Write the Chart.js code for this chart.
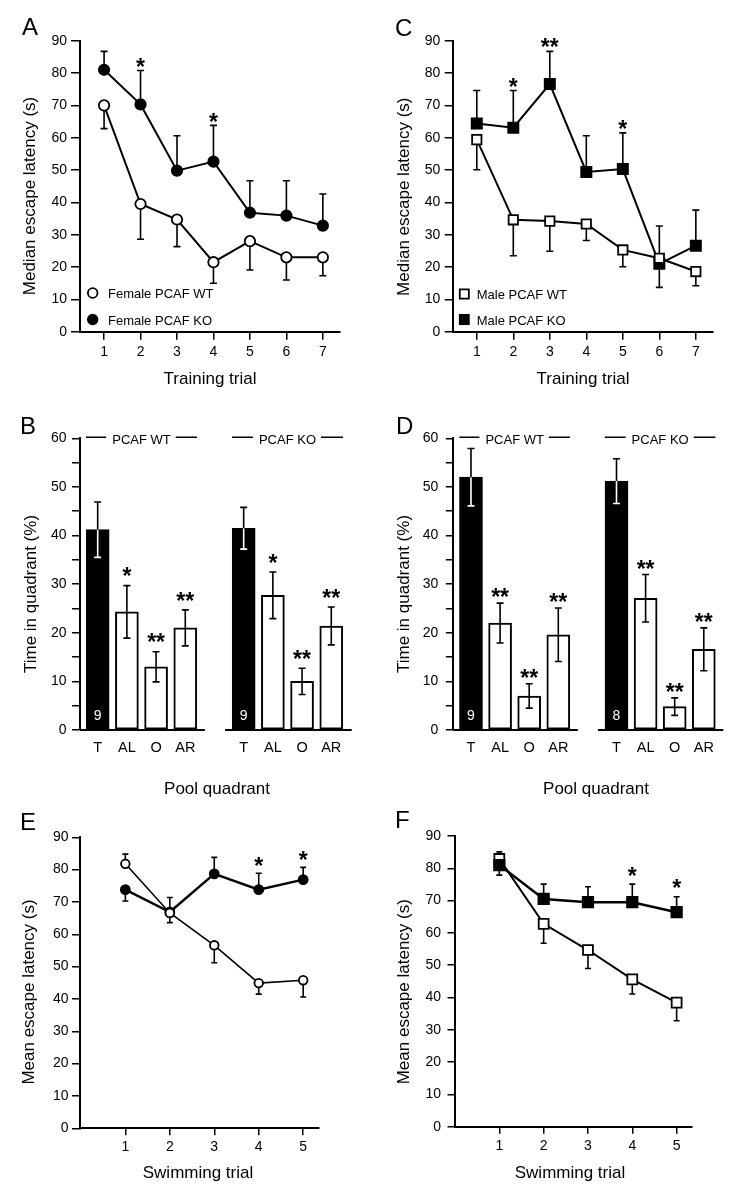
<!DOCTYPE html>
<html>
<head>
<meta charset="utf-8">
<script src="https://cdn.jsdelivr.net/npm/chart.js@4.4.1/dist/chart.umd.min.js"></script>
<style>
  html, body { margin: 0; padding: 0; background: #fff; }
  body { width: 740px; height: 1203px; position: relative; overflow: hidden; font-family: "Liberation Sans", Arial, Helvetica, sans-serif; }
  canvas { position: absolute; }
  .lt { position: absolute; font-size: 24px; line-height: 1; color: #000; }
</style>
</head>
<body>
<canvas id="cA" width="370" height="395" style="left:0;top:0"></canvas>
<canvas id="cC" width="370" height="395" style="left:370px;top:0"></canvas>
<canvas id="cB" width="370" height="410" style="left:0;top:395px"></canvas>
<canvas id="cD" width="370" height="410" style="left:370px;top:395px"></canvas>
<canvas id="cE" width="370" height="403" style="left:0;top:800px"></canvas>
<canvas id="cF" width="370" height="403" style="left:370px;top:800px"></canvas>
<div class="lt" style="left:22px;top:15px">A</div>
<div class="lt" style="left:395px;top:16px">C</div>
<div class="lt" style="left:20px;top:414px">B</div>
<div class="lt" style="left:396px;top:414px">D</div>
<div class="lt" style="left:20px;top:810px">E</div>
<div class="lt" style="left:395px;top:808px">F</div>
<script>
// ---------------- DATA ----------------
const trials7 = [1, 2, 3, 4, 5, 6, 7];
const trials5 = [1, 2, 3, 4, 5];

// Panel A (female, median escape latency)
const aLabels = ['Female PCAF WT', 'Female PCAF KO'];
const aWT   = [70, 39.5, 34.7, 21.5, 28, 23, 23];
const aWTlo = [62.8, 28.6, 26.3, 15.0, 19.1, 16.0, 17.3];
const aKO   = [81, 70.3, 49.8, 52.6, 36.8, 35.9, 32.8];
const aKOhi = [86.7, 80.8, 60.6, 63.8, 46.7, 46.7, 42.6];
const aSig  = ['', '*', '', '*', '', '', ''];

// Panel C (male, median escape latency)
const cLabels = ['Male PCAF WT', 'Male PCAF KO'];
const cWT   = [59.4, 34.6, 34.2, 33.3, 25.3, 22.7, 18.6];
const cWTlo = [50.1, 23.5, 24.9, 28.2, 20.1, 13.7, 14.2];
const cKO   = [64.4, 63.1, 76.6, 49.4, 50.3, 21.0, 26.6];
const cKOhi = [74.6, 74.6, 86.7, 60.6, 61.5, 32.7, 37.6];
const cSig  = ['', '*', '**', '', '*', '', ''];

// Panels B, D (time in quadrant)
const quadrants = ['T', 'AL', 'O', 'AR'];
const groups = ['PCAF WT', 'PCAF KO'];
const bWT    = [41.2, 24.3, 13.0, 21.0];
const bWTerr = [5.7, 5.4, 3.1, 3.7];
const bKO    = [41.5, 27.7, 10.0, 21.4];
const bKOerr = [4.3, 4.8, 2.7, 3.9];
const bSigWT = ['', '*', '**', '**'];
const bSigKO = ['', '*', '**', '**'];
const bN     = ['9', '9'];

const dWT    = [52.0, 22.0, 7.0, 19.6];
const dWTerr = [5.9, 4.1, 2.5, 5.5];
const dKO    = [51.2, 27.1, 4.8, 16.6];
const dKOerr = [4.6, 4.9, 1.8, 4.4];
const dSigWT = ['', '**', '**', '**'];
const dSigKO = ['', '**', '**', '**'];
const dN     = ['9', '8'];

// Panel E (female, mean escape latency, swimming)
const eWT   = [81.8, 66.6, 56.6, 44.9, 45.8];
const eWThi = [84.8, null, null, null, null];
const eWTlo = [null, 63.6, 51.2, 41.5, 40.6];
const eKO   = [73.8, 66.9, 78.7, 73.8, 76.9];
const eKOhi = [null, 71.4, 83.8, 78.9, 80.7];
const eKOlo = [70.3, null, null, null, null];
const eSig  = ['', '', '', '*', '*'];

// Panel F (male, mean escape latency, swimming)
const fWT   = [82.9, 62.8, 54.7, 45.6, 38.4];
const fWThi = [85.1, null, null, null, null];
const fWTlo = [null, 56.8, 49.0, 41.1, 32.8];
const fKO   = [81.0, 70.5, 69.5, 69.5, 66.4];
const fKOhi = [null, 75.1, 74.3, 75.1, 71.2];
const fKOlo = [77.9, null, null, null, null];
const fSig  = ['', '', '', '*', '*'];

// ---------------- HELPERS ----------------
const FONT = '"Liberation Sans", Arial, Helvetica, sans-serif';
Chart.defaults.font.family = FONT;
Chart.defaults.color = '#000';
const TICK_SIZE = 14;

const posWT = [1, 2, 3, 4];
const posKO = [6, 7, 8, 9];
const posAll = posWT.concat(posKO);

function pts(xs, ys) { return xs.map((x, i) => ({ x: x, y: ys[i] })); }

function whiskers(xs, from, to, colors) {
  const out = [];
  xs.forEach((x, i) => {
    if (to[i] === null || to[i] === undefined) return;
    out.push({ x: x, v: from[i], e: to[i], c: colors ? colors[i] : '#000' });
  });
  return out;
}

function drawErrors(chart, o) {
  if (!o.errors) return;
  const ctx = chart.ctx, X = chart.scales.x, Y = chart.scales.y;
  ctx.save();
  ctx.lineWidth = o.errLW || 1.6;
  ctx.lineCap = 'butt';
  o.errors.forEach(w => {
    const px = X.getPixelForValue(w.x);
    const p0 = Y.getPixelForValue(w.v), p1 = Y.getPixelForValue(w.e);
    ctx.strokeStyle = w.c;
    ctx.beginPath();
    ctx.moveTo(px, p0); ctx.lineTo(px, p1);
    ctx.moveTo(px - (o.cap || 3.5), p1); ctx.lineTo(px + (o.cap || 3.5), p1);
    ctx.stroke();
  });
  ctx.restore();
}

function drawMarker(ctx, style, x, y, r, fill, lw) {
  ctx.save();
  ctx.lineWidth = lw;
  ctx.strokeStyle = '#000';
  ctx.fillStyle = fill;
  ctx.beginPath();
  if (style === 'rect') {
    const s = r * Math.SQRT1_2;
    ctx.rect(x - s, y - s, 2 * s, 2 * s);
  } else {
    ctx.arc(x, y, r, 0, Math.PI * 2);
  }
  ctx.fill(); ctx.stroke();
  ctx.restore();
}

const deco = {
  id: 'deco',
  beforeDatasetsDraw(chart, args, o) { if (!o.barMode) drawErrors(chart, o); },
  afterDatasetsDraw(chart, args, o) {
    const ctx = chart.ctx, X = chart.scales.x, Y = chart.scales.y;
    if (o.barMode) drawErrors(chart, o);
    // broken x axis
    if (o.axisSegments) {
      ctx.save();
      ctx.strokeStyle = '#000'; ctx.lineWidth = 2;
      const py = Y.getPixelForValue(0);
      o.axisSegments.forEach(seg => {
        ctx.beginPath();
        ctx.moveTo(X.getPixelForValue(seg[0]), py);
        ctx.lineTo(X.getPixelForValue(seg[1]), py);
        ctx.stroke();
      });
      ctx.restore();
    }
    // significance stars
    if (o.stars) {
      ctx.save();
      const size = o.starSize || 23;
      ctx.font = 'bold ' + size + 'px ' + FONT;
      ctx.textAlign = 'center'; ctx.textBaseline = 'alphabetic'; ctx.fillStyle = '#000';
      o.stars.forEach(s => {
        s.x.forEach((xv, i) => {
          const t = s.t[i];
          if (!t) return;
          const py = Y.getPixelForValue(s.anchor[i]) - o.starGap + 0.57 * size;
          ctx.fillText(t, X.getPixelForValue(xv), py);
        });
      });
      ctx.restore();
    }
    // n labels inside bars
    if (o.nLabels) {
      ctx.save();
      ctx.font = TICK_SIZE + 'px ' + FONT; ctx.fillStyle = '#fff';
      ctx.textAlign = 'center'; ctx.textBaseline = 'middle';
      o.nLabels.x.forEach((xv, i) => {
        ctx.fillText(o.nLabels.t[i], X.getPixelForValue(xv), Y.getPixelForValue(0) - 14);
      });
      ctx.restore();
    }
    // group headers
    if (o.header) {
      const h = o.header;
      ctx.save();
      ctx.font = '13px ' + FONT; ctx.fillStyle = '#000'; ctx.strokeStyle = '#000'; ctx.lineWidth = 1.5;
      ctx.textAlign = 'center'; ctx.textBaseline = 'middle';
      const py = Y.getPixelForValue(h.value) - 1;
      h.labels.forEach((lab, i) => {
        const cx = X.getPixelForValue(h.centers[i]);
        const x0 = X.getPixelForValue(h.centers[i] - h.half), x1 = X.getPixelForValue(h.centers[i] + h.half);
        const w = ctx.measureText(lab).width;
        ctx.fillText(lab, cx, py + 3.5);
        ctx.beginPath();
        ctx.moveTo(x0, py); ctx.lineTo(cx - w / 2 - 6, py);
        ctx.moveTo(cx + w / 2 + 5, py); ctx.lineTo(x1, py);
        ctx.stroke();
      });
      ctx.restore();
    }
  },
  afterDraw(chart, args, o) {
    const ctx = chart.ctx;
    // legend inside plot
    if (o.legend) {
      const L = o.legend;
      chart.data.datasets.forEach((ds, i) => {
        const y = L.y[i];
        drawMarker(ctx, ds.pointStyle, L.x, y, L.r, ds.pointBackgroundColor, 1.8);
        ctx.save();
        ctx.font = '13px ' + FONT; ctx.fillStyle = '#000';
        ctx.textAlign = 'left'; ctx.textBaseline = 'middle';
        ctx.fillText(ds.label, L.tx, y + 1.5);
        ctx.restore();
      });
    }
    // axis titles
    if (o.titles) {
      const T = o.titles;
      ctx.save();
      ctx.font = '17px ' + FONT; ctx.fillStyle = '#000';
      ctx.textAlign = 'center'; ctx.textBaseline = 'middle';
      ctx.fillText(T.x.text, T.x.cx, T.x.cy);
      ctx.translate(T.y.cx, T.y.cy);
      ctx.rotate(-Math.PI / 2);
      ctx.fillText(T.y.text, 0, 0);
      ctx.restore();
    }
  }
};

function yAxis(area, max, step, tickLen, pad, labelStep) {
  return {
    type: 'linear', min: 0, max: max,
    afterFit: s => { s.width = area.l; },
    ticks: { stepSize: step, padding: pad, font: { size: TICK_SIZE }, color: '#000',
             callback: v => (Math.round(v) % labelStep === 0 ? String(v) : '') },
    grid: { display: true, drawOnChartArea: false, drawTicks: true, tickLength: tickLen, color: '#000', lineWidth: 1.5 },
    border: { display: true, color: '#000', width: 2 }
  };
}

function xAxisLine(area, size, min, max, ticksArr, tickLen, pad) {
  return {
    type: 'linear', min: min, max: max, offset: false,
    afterFit: s => { s.height = size.h - area.b; },
    afterBuildTicks: s => { s.ticks = ticksArr.map(v => ({ value: v })); },
    ticks: { padding: pad, font: { size: TICK_SIZE }, color: '#000', autoSkip: false, maxRotation: 0, minRotation: 0,
             callback: v => String(v) },
    grid: { display: true, drawOnChartArea: false, drawTicks: true, tickLength: tickLen, color: '#000', lineWidth: 1.5, offset: false },
    border: { display: true, color: '#000', width: 2 }
  };
}

function xAxisBar(area, size, min, max, pad) {
  return {
    type: 'linear', min: min, max: max, offset: false,
    afterFit: s => { s.height = size.h - area.b; },
    afterBuildTicks: s => { s.ticks = posAll.map(v => ({ value: v })); },
    ticks: { padding: pad, font: { size: 14.5 }, color: '#000', autoSkip: false, maxRotation: 0, minRotation: 0,
             callback: (v, i) => quadrants[i % quadrants.length] },
    grid: { display: false, drawTicks: false, offset: false },
    border: { display: false }
  };
}

function baseOptions(area, size, xCfg, yCfg, decoOpts) {
  return {
    responsive: false, maintainAspectRatio: false, animation: false, events: [],
    layout: { autoPadding: false, padding: { left: 0, top: area.t, right: size.w - area.r, bottom: 0 } },
    plugins: { legend: { display: false }, tooltip: { enabled: false }, title: { display: false }, deco: decoOpts },
    scales: { x: xCfg, y: yCfg }
  };
}

function lineDS(label, xs, ys, style, filled, r, lw, order) {
  return {
    label: label, data: pts(xs, ys), order: order,
    borderColor: '#000', borderWidth: lw, tension: 0, fill: false,
    pointStyle: style, pointRadius: r, pointHoverRadius: r,
    pointBackgroundColor: filled ? '#000' : '#fff', pointBorderColor: '#000', pointBorderWidth: 1.8
  };
}

function lineChart(id, area, size, xr, ticksArr, yTick, xTick, sets, decoOpts) {
  const opts = baseOptions(area, size,
    xAxisLine(area, size, xr[0], xr[1], ticksArr, xTick.len, xTick.pad),
    yAxis(area, 90, 10, yTick.len, yTick.pad, 10), decoOpts);
  return new Chart(document.getElementById(id), { type: 'line', data: { datasets: sets }, options: opts, plugins: [deco] });
}

function barChart(area, size, xr, yTick, xPad, wt, wtErr, ko, koErr, sigWT, sigKO, nLab, starGap) {
  const vals = wt.concat(ko);
  const errs = wtErr.concat(koErr);
  const fills = posAll.map((p, i) => (i % 4 === 0 ? '#000' : '#fff'));
  const hi = vals.map((v, i) => v + errs[i]);
  const lo = vals.map((v, i) => v - errs[i]);
  const loColors = fills.map(f => (f === '#000' ? '#fff' : '#000'));
  const mean = a => a.reduce((s, v) => s + v, 0) / a.length;
  const decoOpts = {
    barMode: true, cap: 3.5, errLW: 1.6,
    errors: whiskers(posAll, vals, hi).concat(whiskers(posAll, vals, lo, loColors)),
    axisSegments: [[xr[0], 4.67], [5.36, xr[1]]],
    stars: [{ x: posAll, t: sigWT.concat(sigKO), anchor: hi }],
    starGap: starGap, starSize: 23,
    nLabels: { x: [posWT[0], posKO[0]], t: nLab },
    header: { labels: groups, centers: [mean(posWT), mean(posKO)], half: 1.9, value: 60 },
    titles: null
  };
  const opts = baseOptions(area, size, xAxisBar(area, size, xr[0], xr[1], xPad), yAxis(area, 60, 5, yTick.len, yTick.pad, 10), decoOpts);
  return { opts: opts, data: { datasets: [{
    type: 'bar', label: 'Time in quadrant', data: pts(posAll, vals),
    backgroundColor: fills, borderColor: '#000', borderWidth: 2, borderSkipped: false, barThickness: 23
  }] } };
}

// ---------------- PANEL A ----------------
(function () {
  const size = { w: 370, h: 395 }, area = { l: 80, t: 40.7, r: 340, b: 331.7 };
  lineChart('cA', area, size, [0.34, 7.47], trials7, { len: 9, pad: 4 }, { len: 8, pad: 3.8 }, [
    lineDS(aLabels[0], trials7, aWT, 'circle', false, 5.2, 2, 0),
    lineDS(aLabels[1], trials7, aKO, 'circle', true, 5.2, 2, 1)
  ], {
    errors: whiskers(trials7, aWT, aWTlo).concat(whiskers(trials7, aKO, aKOhi)),
    cap: 3.5, errLW: 1.6,
    stars: [{ x: trials7, t: aSig, anchor: aKOhi }], starGap: 9, starSize: 23,
    legend: { x: 92.7, y: [293, 319.5], r: 4.8, tx: 108 },
    titles: { x: { text: 'Training trial', cx: 210, cy: 379 }, y: { text: 'Median escape latency (s)', cx: 30, cy: 196 } }
  });
})();

// ---------------- PANEL C ----------------
(function () {
  const size = { w: 370, h: 395 }, area = { l: 82.7, t: 40.7, r: 343, b: 331.7 };
  lineChart('cC', area, size, [0.34, 7.47], trials7, { len: 8, pad: 4.5 }, { len: 8, pad: 3.8 }, [
    lineDS(cLabels[0], trials7, cWT, 'rect', false, 6.6, 2, 0),
    lineDS(cLabels[1], trials7, cKO, 'rect', true, 7.2, 2, 1)
  ], {
    errors: whiskers(trials7, cWT, cWTlo).concat(whiskers(trials7, cKO, cKOhi)),
    cap: 3.5, errLW: 1.6,
    stars: [{ x: trials7, t: cSig, anchor: cKOhi }], starGap: 9, starSize: 23,
    legend: { x: 94.3, y: [294, 319.5], r: 6.4, tx: 106.7 },
    titles: { x: { text: 'Training trial', cx: 213, cy: 379 }, y: { text: 'Median escape latency (s)', cx: 34.5, cy: 196.7 } }
  });
})();

// ---------------- PANEL B ----------------
(function () {
  const size = { w: 370, h: 410 }, area = { l: 80, t: 43.3, r: 351.7, b: 335 };
  const c = barChart(area, size, [0.394, 9.70], { len: 8, pad: 5.5 }, 9.2, bWT, bWTerr, bKO, bKOerr, bSigWT, bSigKO, bN, 14.5);
  c.opts.plugins.deco.titles = { x: { text: 'Pool quadrant', cx: 217, cy: 394 }, y: { text: 'Time in quadrant (%)', cx: 31, cy: 199 } };
  new Chart(document.getElementById('cB'), { type: 'bar', data: c.data, options: c.opts, plugins: [deco] });
})();

// ---------------- PANEL D ----------------
(function () {
  const size = { w: 370, h: 410 }, area = { l: 83.3, t: 43.3, r: 353.3, b: 335 };
  const c = barChart(area, size, [0.392, 9.67], { len: 7.5, pad: 7.5 }, 9.2, dWT, dWTerr, dKO, dKOerr, dSigWT, dSigKO, dN, 11);
  c.opts.plugins.deco.titles = { x: { text: 'Pool quadrant', cx: 226, cy: 394 }, y: { text: 'Time in quadrant (%)', cx: 34, cy: 199 } };
  new Chart(document.getElementById('cD'), { type: 'bar', data: c.data, options: c.opts, plugins: [deco] });
})();

// ---------------- PANEL E ----------------
(function () {
  const size = { w: 370, h: 403 }, area = { l: 80, t: 37.3, r: 318.3, b: 328.3 };
  lineChart('cE', area, size, [-0.02, 5.34], trials5, { len: 8, pad: 3.5 }, { len: 7, pad: 3 }, [
    lineDS('Female PCAF WT', trials5, eWT, 'circle', false, 4.3, 1.6, 0),
    lineDS('Female PCAF KO', trials5, eKO, 'circle', true, 4.5, 2.4, 1)
  ], {
    errors: whiskers(trials5, eWT, eWThi).concat(whiskers(trials5, eWT, eWTlo))
      .concat(whiskers(trials5, eKO, eKOhi)).concat(whiskers(trials5, eKO, eKOlo)),
    cap: 3, errLW: 1.6,
    stars: [{ x: trials5, t: eSig, anchor: eKOhi }], starGap: 12, starSize: 23,
    titles: { x: { text: 'Swimming trial', cx: 198, cy: 373 }, y: { text: 'Mean escape latency (s)', cx: 29, cy: 192 } }
  });
})();

// ---------------- PANEL F ----------------
(function () {
  const size = { w: 370, h: 403 }, area = { l: 85, t: 36, r: 321.7, b: 326.7 };
  lineChart('cF', area, size, [0, 5.34], trials5, { len: 7.5, pad: 6.5 }, { len: 7, pad: 4.5 }, [
    lineDS('Male PCAF WT', trials5, fWT, 'rect', false, 7, 2, 1),
    lineDS('Male PCAF KO', trials5, fKO, 'rect', true, 7.4, 2.4, 0)
  ], {
    errors: whiskers(trials5, fWT, fWThi).concat(whiskers(trials5, fWT, fWTlo))
      .concat(whiskers(trials5, fKO, fKOhi)).concat(whiskers(trials5, fKO, fKOlo)),
    cap: 3, errLW: 1.6,
    stars: [{ x: trials5, t: fSig, anchor: fKOhi }], starGap: 13.5, starSize: 23,
    titles: { x: { text: 'Swimming trial', cx: 200, cy: 373 }, y: { text: 'Mean escape latency (s)', cx: 34, cy: 191.7 } }
  });
})();
</script>
</body>
</html>
